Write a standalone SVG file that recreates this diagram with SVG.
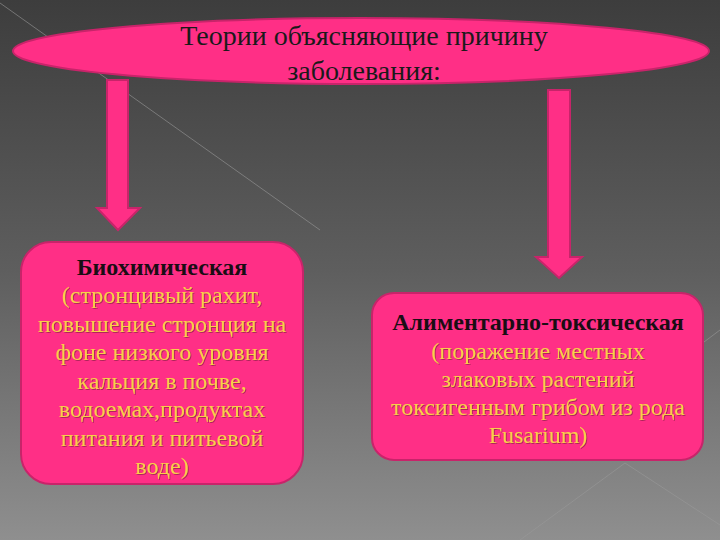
<svg xmlns="http://www.w3.org/2000/svg" width="720" height="540" viewBox="0 0 720 540">
<defs>
<linearGradient id="bg" x1="0" y1="0" x2="0" y2="1">
<stop offset="0" stop-color="#3d3d3d"/>
<stop offset="0.5" stop-color="#5e5e5e"/>
<stop offset="1" stop-color="#8f8f8f"/>
</linearGradient>
<filter id="sh" x="-10%" y="-10%" width="120%" height="120%">
<feDropShadow dx="1" dy="1" stdDeviation="0.6" flood-color="#7a1a3a" flood-opacity="0.6"/>
</filter>
</defs>
<style>
.pink{fill:#ff2f86;stroke:#c8246a;stroke-width:2}
.t{font-family:"Liberation Serif","Times New Roman",serif;text-anchor:middle}
.head{fill:#1a1a1a;font-size:28px}
.bold{fill:#1a0d14;font-size:24px;font-weight:bold}
.y{fill:#f9cf4a;font-size:24px;filter:url(#sh)}
.bgl{stroke:#9a9a9a;stroke-width:1;fill:none;opacity:0.6}
</style>
<rect width="720" height="540" fill="url(#bg)"/>
<g id="bglines">
<line class="bgl" x1="0" y1="3" x2="320" y2="230"/>
<line class="bgl" x1="520" y1="540" x2="625" y2="463"/>
<line class="bgl" x1="625" y1="463" x2="720" y2="525"/>
<line class="bgl" x1="700" y1="345" x2="720" y2="330"/>
</g>
<g id="connectors">
<polygon class="pink" points="107,80 128,80 128,208 140,208 118,230 97,208 107,208"/>
<polygon class="pink" points="548,90 570,90 570,257 582,257 559,278 536,257 548,257"/>
</g>
<g id="title">
<ellipse class="pink" cx="361" cy="51" rx="348" ry="33"/>
<text class="t head" x="364" y="45">Теории объясняющие причину</text>
<text class="t head" x="364" y="80">заболевания:</text>
</g>
<g id="biochem">
<rect class="pink" x="21" y="242" width="282" height="242" rx="30"/>
<text class="t bold" x="162" y="275">Биохимическая</text>
<text class="t y" x="162" y="303">(стронцивый рахит,</text>
<text class="t y" x="162" y="332">повышение стронция на</text>
<text class="t y" x="162" y="360">фоне низкого уровня</text>
<text class="t y" x="162" y="389">кальция в почве,</text>
<text class="t y" x="162" y="417">водоемах,продуктах</text>
<text class="t y" x="162" y="446">питания и питьевой</text>
<text class="t y" x="162" y="474">воде)</text>
</g>
<g id="aliment">
<rect class="pink" x="372" y="293" width="331" height="167" rx="22"/>
<text class="t bold" x="538" y="330">Алиментарно-токсическая</text>
<text class="t y" x="538" y="359">(поражение местных</text>
<text class="t y" x="538" y="387">злаковых растений</text>
<text class="t y" x="538" y="415">токсигенным грибом из рода</text>
<text class="t y" x="538" y="443">Fusarium)</text>
</g>
</svg>
